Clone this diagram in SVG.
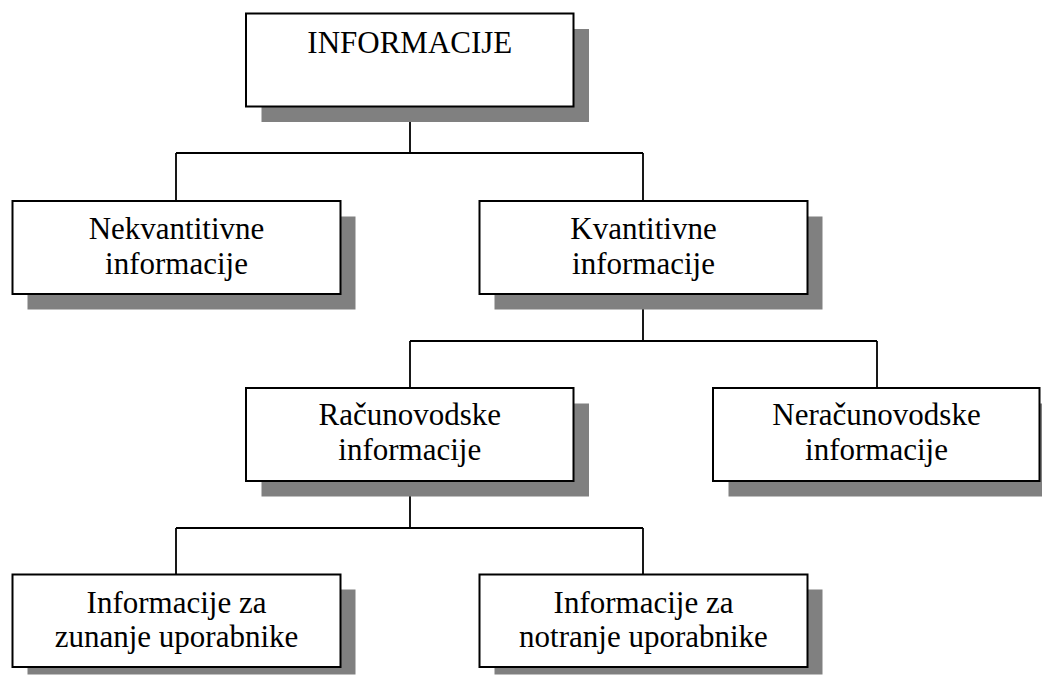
<svg xmlns="http://www.w3.org/2000/svg" width="1042" height="675" viewBox="0 0 1042 675">
<style>
.shadow{fill:#808080;stroke:none}
.box{fill:#ffffff;stroke:#000000;stroke-width:2}
.lbl{font-family:"Liberation Serif","Times New Roman",serif;font-size:31px;fill:#000000;text-anchor:middle}
.conn{fill:none;stroke:#000000;stroke-width:1.8}
</style>
<rect width="1042" height="675" fill="#ffffff"/>
<g id="connectors">
<path class="conn" d="M410,107 V153 M176,153 H643 M176,153 V201 M643,153 V201"/>
<path class="conn" d="M643,294 V341 M410,341 H877 M410,341 V388 M877,341 V388"/>
<path class="conn" d="M410,481 V528 M176,528 H643 M176,528 V574 M643,528 V574"/>
</g>
<g id="n-informacije">
<rect class="shadow" x="261.5" y="29" width="327.5" height="93"/>
<rect class="box" x="246" y="13.5" width="327.5" height="93"/>
<text class="lbl" x="409.8" y="53">INFORMACIJE</text>
</g>
<g id="n-nekvantitivne">
<rect class="shadow" x="27.5" y="216.5" width="328" height="93"/>
<rect class="box" x="12.5" y="201" width="328" height="93"/>
<text class="lbl" x="176.5" y="238.5">Nekvantitivne</text>
<text class="lbl" x="176.5" y="273.5">informacije</text>
</g>
<g id="n-kvantitivne">
<rect class="shadow" x="494.5" y="216.5" width="328" height="93"/>
<rect class="box" x="479.5" y="201" width="328" height="93"/>
<text class="lbl" x="643.5" y="238.5">Kvantitivne</text>
<text class="lbl" x="643.5" y="273.5">informacije</text>
</g>
<g id="n-racunovodske">
<rect class="shadow" x="261.5" y="403.5" width="327.5" height="93"/>
<rect class="box" x="246" y="388" width="327.5" height="93"/>
<text class="lbl" x="409.8" y="425">Računovodske</text>
<text class="lbl" x="409.8" y="460">informacije</text>
</g>
<g id="n-neracunovodske">
<rect class="shadow" x="728.5" y="403.5" width="327" height="93"/>
<rect class="box" x="713" y="388" width="326.5" height="93"/>
<text class="lbl" x="876.5" y="425">Neračunovodske</text>
<text class="lbl" x="876.5" y="460">informacije</text>
</g>
<g id="n-zunanje">
<rect class="shadow" x="27.5" y="589.5" width="328" height="85"/>
<rect class="box" x="12.5" y="574.5" width="328" height="92.5"/>
<text class="lbl" x="176.5" y="612.5">Informacije za</text>
<text class="lbl" x="176.5" y="647">zunanje uporabnike</text>
</g>
<g id="n-notranje">
<rect class="shadow" x="494.5" y="589.5" width="328" height="85"/>
<rect class="box" x="479.5" y="574.5" width="328" height="92.5"/>
<text class="lbl" x="643.5" y="612.5">Informacije za</text>
<text class="lbl" x="643.5" y="647">notranje uporabnike</text>
</g>
</svg>
